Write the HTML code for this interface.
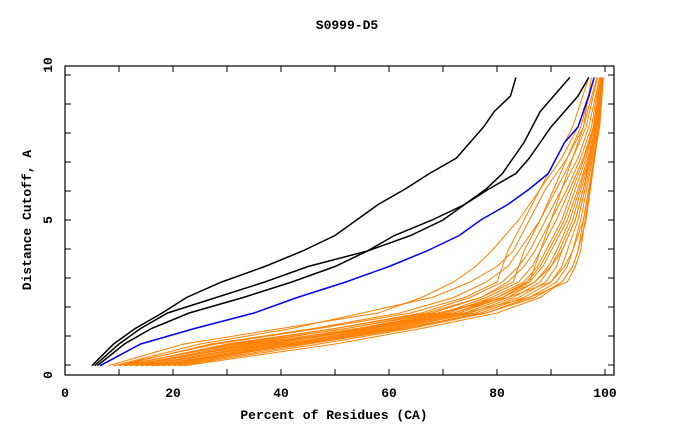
<!DOCTYPE html>
<html><head><meta charset="utf-8"><style>
body{margin:0;background:#fff}
svg{display:block}
text{font-family:"Liberation Mono","DejaVu Sans Mono",monospace;font-weight:bold}
</style></head><body>
<svg id="c" width="680" height="440">
<text x="347" y="29" font-size="13" font-family="Liberation Mono, monospace" font-weight="bold" text-anchor="middle">S0999-D5</text>
<text x="334" y="419" font-size="13" font-family="Liberation Mono, monospace" font-weight="bold" text-anchor="middle">Percent of Residues (CA)</text>
<text transform="translate(31,220) rotate(-90)" font-size="13" font-family="Liberation Mono, monospace" font-weight="bold" text-anchor="middle">Distance Cutoff, A</text>
<g id="ticks"></g>
<g id="series"></g>
<rect x="65" y="66" width="549" height="309" fill="none" stroke="#000" stroke-width="1.2"/>
</svg>
<script>
const xTicks=[0,20,40,60,80,100];
const yTicks=[0,5,10];
const levels=[0.3,1,1.5,2,2.5,3,3.5,4,4.5,5,5.5,6,6.5,7,7.5,8,8.5,9,9.6];
const black1=[5,9,13,18,22.5,29,37,44,50,54,58,63,67.5,72.5,75,77.5,79.5,82.5,83.5];
const black2=[5.5,10,14,19,28,37,45,56,64,70,74,78,81,83,85,86.5,88,90.5,93.5];
const black3=[6,11,16,23,33,42,50,56,61,68,74,78.5,83.5,86,88,90,92.5,95,97];
const blue=[6.5,14,24,35,43,52,60,67,73,77,82,86,89.5,91,92.5,95,96,97,98];
const orangeLevels=[0.3,1,1.5,2,2.5,3,3.5,4,5,6,7,8,9.6];
const orange=[
[8,22,40,58,66,72,76,79,84,88,92,95,98],
[9,25,42,55,68,75,80,83,86,89,93,96,98.5],
[10,27,46,62,72,78,82,84,88,91,94,96.5,98.6],
[11,30,50,66,75,81,84,86,89,92,95,97,99],
[12,33,52,68,77,82,85,87,90,93,95.5,97.5,99],
[13,35,54,70,78,84,86.5,88,91,93.5,96,97.8,99.2],
[14,37,56,71,79,85,87.5,89,92,94,96.2,98,99.3],
[15,38,57,72,80,85.5,88,89.5,92.5,94.5,96.5,98,99.4],
[16,40,58,73,81,86,88.5,90,93,95,96.8,98.2,99.4],
[17,41,59,74,82,87,89.5,91,93.5,95.3,97,98.4,99.5],
[18,42,60,75,83,88,90,91.5,94,95.6,97.2,98.5,99.5],
[19,43,61,76,84,89,91,92,94.5,96,97.4,98.6,99.6],
[20,45,63,77,85,90,92,93,95,96.3,97.6,98.8,99.6],
[21,47,64,78,86,91,93,94,95.5,96.6,97.8,99,99.7],
[22,50,66,80,88,92,94,95,96,97,98,99,99.7],
[10,32,52,69,82,90,92.5,94,96,97,98,98.8,99.4],
[12,36,56,74,86,93,94.5,95.5,96.3,97.2,98,98.8,99.5],
[14,39,55,70,80,86,87,88,90,92,94,96,97.5],
[9,28,47,64,74,80,81,82,85,88,91,94,97],
[11,31,50,67,77,83,84,85,88,90.5,93,95.5,98],
[13,34,55,72,81,87,90,92,94.5,96,97.2,98.3,99.2],
[16,44,62,78,87,92,94,95,96.5,97.3,98.1,98.9,99.6]
];
const NS='http://www.w3.org/2000/svg';
function X(v){return 65+5.4*v;}
function Y(v){return 375-31*v;}
const tg=document.getElementById('ticks');
function line(x1,y1,x2,y2){const l=document.createElementNS(NS,'line');l.setAttribute('x1',x1);l.setAttribute('y1',y1);l.setAttribute('x2',x2);l.setAttribute('y2',y2);l.setAttribute('stroke','#000');tg.appendChild(l);return l;}
for(let v=10;v<=100;v+=10){
  const a=line(X(v),375,X(v),369);
  
  
  const b=line(X(v),66,X(v),72);
  
  
}
for(let k=-5;k<=5;k++){
  const y=220+29*k; if(y<=70||y>=373) continue;
  const a=line(65,y,71,y);
  
  
  const b=line(614,y,608,y);
  
  
}
function mkText(){const t=document.createElementNS(NS,'text');t.setAttribute('font-size','13');t.setAttribute('font-family','Liberation Mono, monospace');t.setAttribute('font-weight','bold');t.setAttribute('text-anchor','middle');return t;}
xTicks.forEach(v=>{const t=mkText();t.setAttribute('x',X(v));t.setAttribute('y',397);t.textContent=v;


tg.appendChild(t);});
yTicks.forEach(v=>{const t=mkText();t.setAttribute('transform','translate(52,'+Y(v)+') rotate(-90)');t.textContent=v;


tg.appendChild(t);});
const sg=document.getElementById('series');
function poly(xs,ys,color,w,name){const p=document.createElementNS(NS,'polyline');p.setAttribute('points',xs.map((x,i)=>X(x)+','+Y(ys[i])).join(' '));p.setAttribute('fill','none');p.setAttribute('stroke',color);p.setAttribute('stroke-width',w);


sg.appendChild(p);}
orange.forEach(s=>poly(s,orangeLevels,'#ff8000',1,'orange-model-line'));
poly(black1,levels,'#000',1.5,'black-line-1');
poly(black2,levels,'#000',1.5,'black-line-2');
poly(black3,levels,'#000',1.5,'black-line-3');
poly(blue,levels,'#0000ff',1.5,'blue-line');
</script>
</body></html>
